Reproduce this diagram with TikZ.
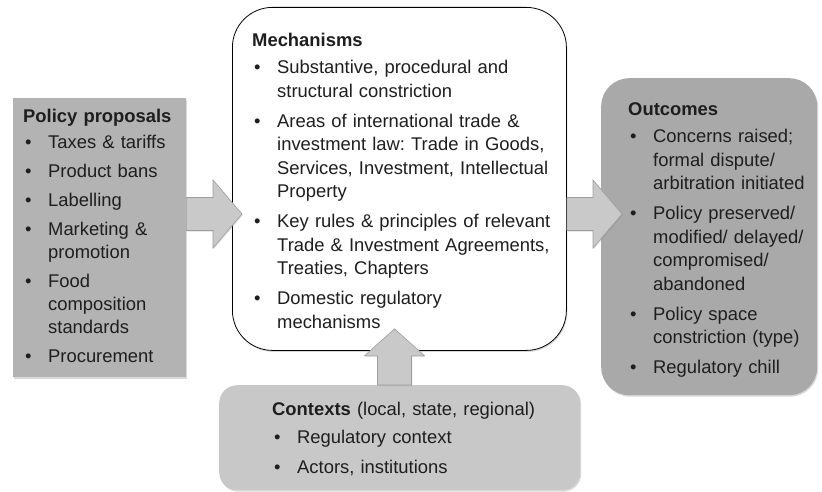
\documentclass[tikz,border=0pt]{standalone}
\usepackage{fontspec}
\setmainfont{Liberation Sans}
\usetikzlibrary{shadows,calc}
\definecolor{boxL}{HTML}{B3B3B3}
\definecolor{boxR}{HTML}{A9A9A9}
\definecolor{boxC}{HTML}{C8C8C8}
\definecolor{arrF}{HTML}{C9C9C9}
\definecolor{arrD}{HTML}{9E9E9E}
\definecolor{textc}{HTML}{1E1E1E}
\newlength{\itemgap}\setlength{\itemgap}{6.5pt}
\newcommand{\ttl}[1]{\noindent\rule{0pt}{16pt}\textbf{#1}\par\vspace{-2.5pt}}
\newcommand{\itm}[1]{\vspace{\itemgap}\hangindent=25pt\hangafter=1\noindent\hbox to 25pt{\hspace{2pt}•\hfil}#1\par}
\newcommand{\blockarrow}[5]{%
  \coordinate (#1#2hb) at ($(#2)!#5!(#1)$);
  \draw[barrow] ($(#1)!#3!90:(#2)$) -- ($(#1#2hb)!#3!90:(#2)$) -- ($(#1#2hb)!#4!90:(#2)$)
    -- (#2) -- ($(#1#2hb)!#4!-90:(#2)$) -- ($(#1#2hb)!#3!-90:(#2)$) -- ($(#1)!#3!-90:(#2)$) -- cycle;}
\begin{document}
\begin{tikzpicture}[x=1pt,y=-1pt,
  shad/.style={drop shadow={shadow xshift=1pt,shadow yshift=-1.5pt,opacity=0.3}},
  boxbase/.style={anchor=north west,inner sep=0pt,shad},
  txt/.style={anchor=north west,inner sep=0pt,text width=320pt,align=left,
    font=\fontsize{18.4pt}{23.5pt}\selectfont\frenchspacing,text=textc},
  barrow/.style={fill=arrF,draw=arrD,line width=0.6pt,line join=miter,
    drop shadow={shadow xshift=0.8pt,shadow yshift=-1.2pt,opacity=0.25}}]
\useasboundingbox (0,0) rectangle (822,492);
% boxes
\node[boxbase,fill=boxL,minimum width=173pt,minimum height=279pt] (pp) at (13,98) {};
\node[boxbase,fill=boxR,rounded corners=28pt,minimum width=216pt,minimum height=317pt] (out) at (601,78) {};
\node[boxbase,fill=white,draw=black,line width=0.8pt,rounded corners=40pt,minimum width=334pt,minimum height=343pt] (mid) at (232,7) {};
\node[boxbase,fill=boxC,rounded corners=18pt,minimum width=361pt,minimum height=105pt] (ctx) at (219,385) {};
% texts
\node[txt,font=\fontsize{18.4pt}{23pt}\selectfont\frenchspacing] (pptxt) at (23,106) {\setlength{\itemgap}{6pt}\ttl{Policy proposals}%
\itm{Taxes \& tariffs}\itm{Product bans}\itm{Labelling}%
\itm{Marketing \&\newline promotion}\itm{Food\newline composition\newline standards}%
\itm{Procurement}};
\node[txt] (midtxt) at (252,30) {\ttl{Mechanisms}%
\itm{Substantive, procedural and\newline structural constriction}%
\itm{Areas of international trade \&\newline investment law: Trade in Goods,\newline Services, Investment, Intellectual\newline Property}%
\itm{Key rules \& principles of relevant\newline Trade \& Investment Agreements,\newline Treaties, Chapters}%
\itm{Domestic regulatory\newline mechanisms}};
\node[txt] (outtxt) at (628,99) {\ttl{Outcomes}%
\itm{Concerns raised;\newline formal dispute/\newline arbitration initiated}%
\itm{Policy preserved/\newline modified/ delayed/\newline compromised/\newline abandoned}%
\itm{Policy space\newline constriction (type)}%
\itm{Regulatory chill}};
\node[txt] (ctxtxt) at (272,399) {\ttl{Contexts \textmd{(local, state, regional)}}\vspace{1pt}%
\itm{Regulatory context}\itm{Actors, institutions}};
% arrows
\coordinate (la0) at (pp.east |- 0,214);
\coordinate (la1) at ($(mid.west |- 0,214)+(10,0)$);
\coordinate (ra0) at (mid.east |- 0,214);
\coordinate (ra1) at ($(out.west |- 0,214)+(21,0)$);
\coordinate (ua0) at (ctx.north -| 394.5,0);
\coordinate (ua1) at ($(mid.south -| 394.5,0)+(0,-22)$);
\blockarrow{la0}{la1}{16.5pt}{34pt}{29pt}
\blockarrow{ra0}{ra1}{16.5pt}{34pt}{29pt}
\blockarrow{ua0}{ua1}{17pt}{30pt}{27pt}
\end{tikzpicture}
\end{document}
